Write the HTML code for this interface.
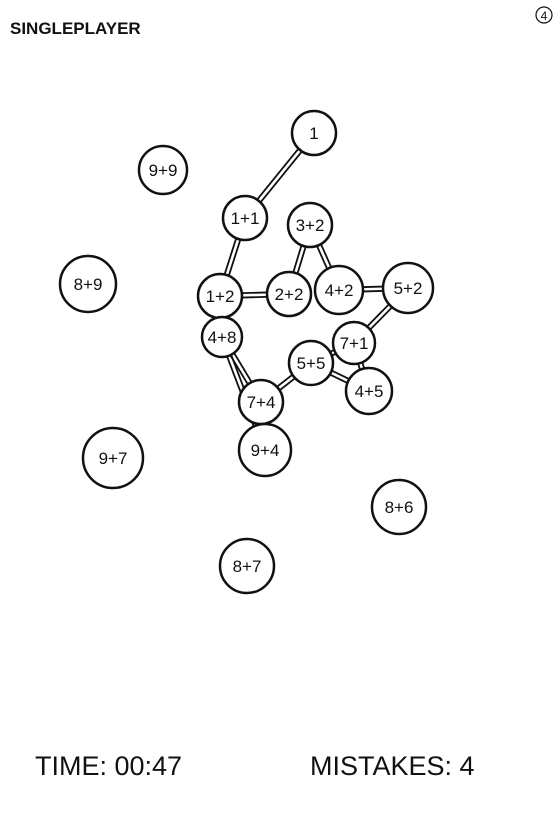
<!DOCTYPE html>
<html><head><meta charset="utf-8"><style>
html,body{margin:0;padding:0;background:#fff;}
svg{display:block;}
text{font-family:"Liberation Sans",sans-serif;fill:#111;}
</style></head><body>
<svg id="s" width="557" height="816" viewBox="0 0 557 816">
<text x="10" y="34" font-size="17" font-weight="bold">SINGLEPLAYER</text>
<circle cx="544" cy="15" r="8" fill="none" stroke="#111" stroke-width="1.2"/>
<text x="544" y="20" font-size="12" text-anchor="middle">4</text>
<g id="edges"></g>
<g id="nodes"></g>
<text x="35" y="775" font-size="27">TIME: 00:47</text>
<text x="310" y="775" font-size="27">MISTAKES: 4</text>
</svg>
<script>
const labels=["1","9+9","1+1","3+2","8+9","1+2","2+2","4+2","5+2","4+8","7+1","5+5","4+5","7+4","9+4","9+7","8+6","8+7"];
const xs=[314,163,245,310,88,220,289,339,408,222,354,311,369,261,265,113,399,247];
const ys=[133,170,218,225,284,296,294,290,288,337,343,363,391,402,450,458,507,566];
const rs=[22,24,22,22,28,22,22,24,25,20,21,22,23,22,26,30,27,27];
const links=[[0,2],[2,5],[5,6],[6,3],[3,7],[7,8],[8,10],[10,11],[10,12],[11,12],[11,13],[9,13],[9,14]];
const NS="http://www.w3.org/2000/svg";
const eg=document.getElementById('edges'),ng=document.getElementById('nodes');
links.forEach(([a,b],i)=>{
  const dx=xs[b]-xs[a],dy=ys[b]-ys[a],L=Math.hypot(dx,dy),nx=-dy/L*2.2,ny=dx/L*2.2;
  [-1,1].forEach(sg=>{
    const l=document.createElementNS(NS,'line');
    l.setAttribute('x1',xs[a]+nx*sg);l.setAttribute('y1',ys[a]+ny*sg);
    l.setAttribute('x2',xs[b]+nx*sg);l.setAttribute('y2',ys[b]+ny*sg);
    l.setAttribute('stroke','#111');l.setAttribute('stroke-width','1.8');
    
    
    eg.appendChild(l);
  });
});
labels.forEach((t,i)=>{
  const g=document.createElementNS(NS,'g');
  
  
  const c=document.createElementNS(NS,'circle');
  c.setAttribute('cx',xs[i]);c.setAttribute('cy',ys[i]);c.setAttribute('r',rs[i]);
  c.setAttribute('fill','#fff');c.setAttribute('stroke','#111');c.setAttribute('stroke-width','2.5');
  
  
  const tx=document.createElementNS(NS,'text');
  tx.setAttribute('x',xs[i]);tx.setAttribute('y',ys[i]+6);tx.setAttribute('text-anchor','middle');
  tx.setAttribute('font-size','17');tx.textContent=t;
  
  
  g.appendChild(c);g.appendChild(tx);ng.appendChild(g);
});
</script>
</body></html>
